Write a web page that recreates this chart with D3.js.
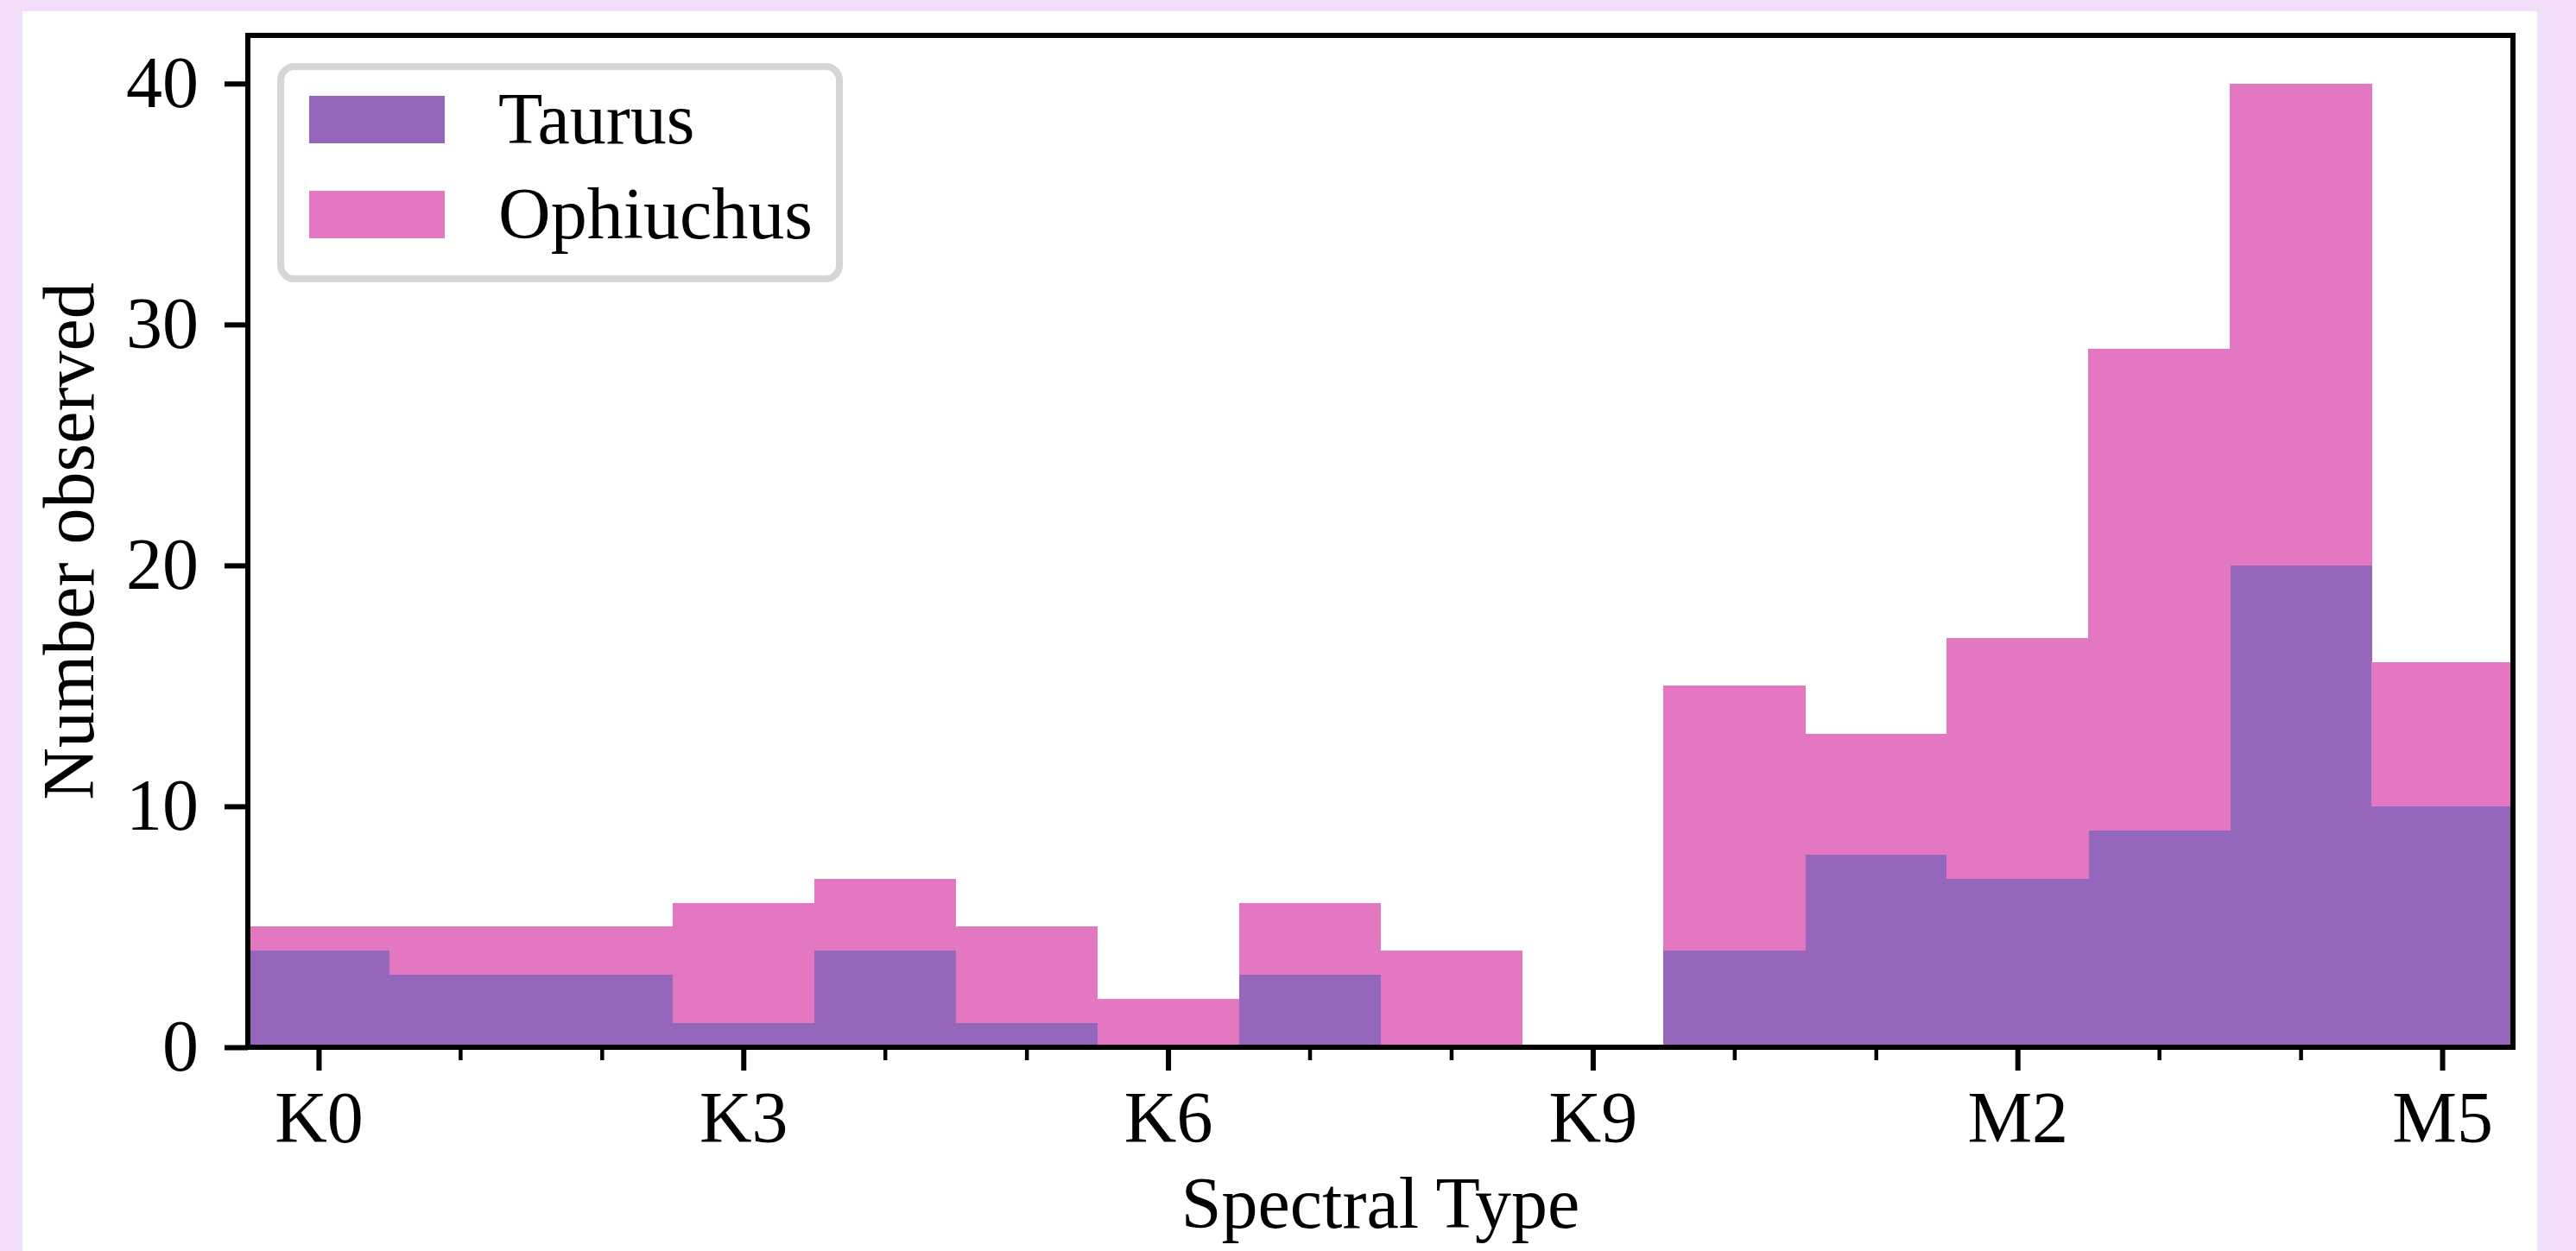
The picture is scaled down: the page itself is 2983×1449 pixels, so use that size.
<!DOCTYPE html>
<html>
<head>
<meta charset="utf-8">
<script src="https://cdn.jsdelivr.net/npm/d3@7"></script>
<style>
  html, body { margin: 0; padding: 0; background: #f2def8; }
  svg { display: block; }
  text { font-family: "Liberation Serif", "DejaVu Serif", serif; fill: #000; }
</style>
</head>
<body>
<svg id="chart" width="2983" height="1449"></svg>
<script>
// Spectral types, one bin each
const spectralTypes = ["K0", "K1", "K2", "K3", "K4", "K5", "K6", "K7", "K8", "K9",
                       "M0", "M1", "M2", "M3", "M4", "M5"];
// Counts per bin (Ophiuchus stacked on top of Taurus)
const taurus    = [4, 3, 3, 1, 4, 1, 0, 3, 0, 0, 4, 8, 7, 9, 20, 10];
const ophiuchus = [1, 2, 2, 5, 3, 4, 2, 3, 4, 0, 11, 5, 10, 20, 20, 6];
const seriesNames = ["Taurus", "Ophiuchus"];
const seriesColors = ["#9467bd", "#e377c2"];
const majorLabels = ["K0", "K3", "K6", "K9", "M2", "M5"];
const yTicks = [0, 10, 20, 30, 40];

const svg = d3.select("#chart");
const W = 2983, H = 1449;

// white figure panel
svg.append("rect")
    .attr("x", 26).attr("y", 13)
    .attr("width", 2938 - 26).attr("height", H - 13)
    .attr("fill", "#fff");

const plotL = 287, plotR = 2910, plotT = 41, plotB = 1213;

const x = d3.scaleLinear().domain([-0.5, spectralTypes.length - 0.5]).range([plotL, plotR]);
const y = d3.scaleLinear().domain([0, 42]).range([plotB, plotT]);

// table for stacking
const table = spectralTypes.map((t, i) => ({ idx: i, Taurus: taurus[i], Ophiuchus: ophiuchus[i] }));
const stacked = d3.stack().keys(seriesNames)(table);

const bars = svg.append("g");
stacked.forEach((layer, k) => {
    bars.append("g")
        .attr("fill", seriesColors[k])
        .attr("shape-rendering", "crispEdges")
        .selectAll("rect")
        .data(layer.filter(d => d[1] > d[0]))
        .join("rect")
        .attr("x", d => x(d.data.idx - 0.5))
        .attr("width", d => x(d.data.idx + 0.5) - x(d.data.idx - 0.5) + 0.5)
        .attr("y", d => y(d[1]))
        .attr("height", d => y(d[0]) - y(d[1]));
});

// x axis: minor ticks for every type, major ticks with labels
const idxs = spectralTypes.map((t, i) => i);
const majorIdx = idxs.filter(i => majorLabels.includes(spectralTypes[i]));

const xMinor = svg.append("g")
    .attr("transform", `translate(0,${plotB})`)
    .call(d3.axisBottom(x).tickValues(idxs.filter(i => !majorIdx.includes(i)))
        .tickSize(15).tickFormat(""));
xMinor.select(".domain").remove();
xMinor.selectAll("line").attr("stroke", "#000").attr("stroke-width", 4.5);

const xMajor = svg.append("g")
    .attr("transform", `translate(0,${plotB})`)
    .call(d3.axisBottom(x).tickValues(majorIdx)
        .tickSize(27).tickPadding(23).tickFormat(i => spectralTypes[i]));
xMajor.select(".domain").remove();
xMajor.selectAll("line").attr("stroke", "#000").attr("stroke-width", 6);
xMajor.attr("font-family", null).attr("font-size", null);
xMajor.selectAll("text").attr("font-size", 84);

const yAxis = svg.append("g")
    .attr("transform", `translate(${plotL},0)`)
    .call(d3.axisLeft(y).tickValues(yTicks).tickSize(27).tickPadding(30));
yAxis.select(".domain").remove();
yAxis.selectAll("line").attr("stroke", "#000").attr("stroke-width", 6);
yAxis.attr("font-family", null).attr("font-size", null);
yAxis.selectAll("text").attr("font-size", 84);

// spines
svg.append("rect")
    .attr("x", plotL).attr("y", plotT)
    .attr("width", plotR - plotL).attr("height", plotB - plotT)
    .attr("fill", "none").attr("stroke", "#000").attr("stroke-width", 6);

// axis labels
svg.append("text")
    .attr("x", (plotL + plotR) / 2).attr("y", 1422)
    .attr("text-anchor", "middle").attr("font-size", 84)
    .text("Spectral Type");

svg.append("text")
    .attr("transform", `translate(108,${(plotT + plotB) / 2}) rotate(-90)`)
    .attr("text-anchor", "middle").attr("font-size", 84)
    .text("Number observed");

// legend
const legend = svg.append("g");
legend.append("rect")
    .attr("x", 325).attr("y", 77).attr("width", 647).attr("height", 246)
    .attr("rx", 16).attr("fill", "#fff")
    .attr("stroke", "#d6d6d6").attr("stroke-width", 8);

const items = legend.selectAll("g.item")
    .data(seriesNames)
    .join("g")
    .attr("class", "item")
    .attr("transform", (d, i) => `translate(0,${i * 110})`);
items.append("rect")
    .attr("x", 358).attr("y", 111).attr("width", 157).attr("height", 55)
    .attr("fill", (d, i) => seriesColors[i]);
items.append("text")
    .attr("x", 577).attr("y", 166).attr("font-size", 84)
    .text(d => d);
</script>
</body>
</html>
